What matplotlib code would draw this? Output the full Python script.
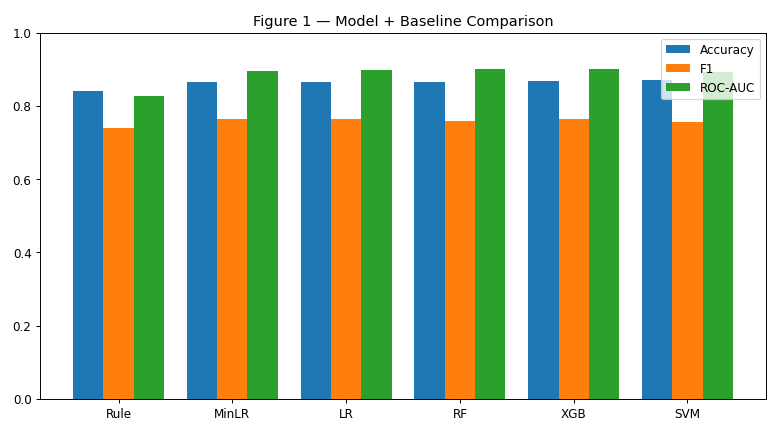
import numpy as np
import matplotlib
matplotlib.use("Agg")
import matplotlib.pyplot as plt

models = ["Rule", "MinLR", "LR", "RF", "XGB", "SVM"]
accuracy = [0.842, 0.866, 0.865, 0.865, 0.868, 0.872]
f1 = [0.741, 0.763, 0.764, 0.760, 0.765, 0.756]
roc_auc = [0.827, 0.894, 0.898, 0.900, 0.901, 0.892]

x = np.arange(len(models))
w = 0.8 / 3

fig, ax = plt.subplots(figsize=(9, 5), dpi=780 / 9)
ax.bar(x - w, accuracy, w, label="Accuracy")
ax.bar(x, f1, w, label="F1")
ax.bar(x + w, roc_auc, w, label="ROC-AUC")
ax.set_xticks(x)
ax.set_xticklabels(models)
ax.set_ylim(0, 1.0)
ax.set_title("Figure 1 \u2014 Model + Baseline Comparison")
ax.legend(loc="upper right")
fig.subplots_adjust(left=40 / 780, right=766 / 780, top=1 - 33 / 434, bottom=1 - 400 / 434)
fig.savefig("out.png")
